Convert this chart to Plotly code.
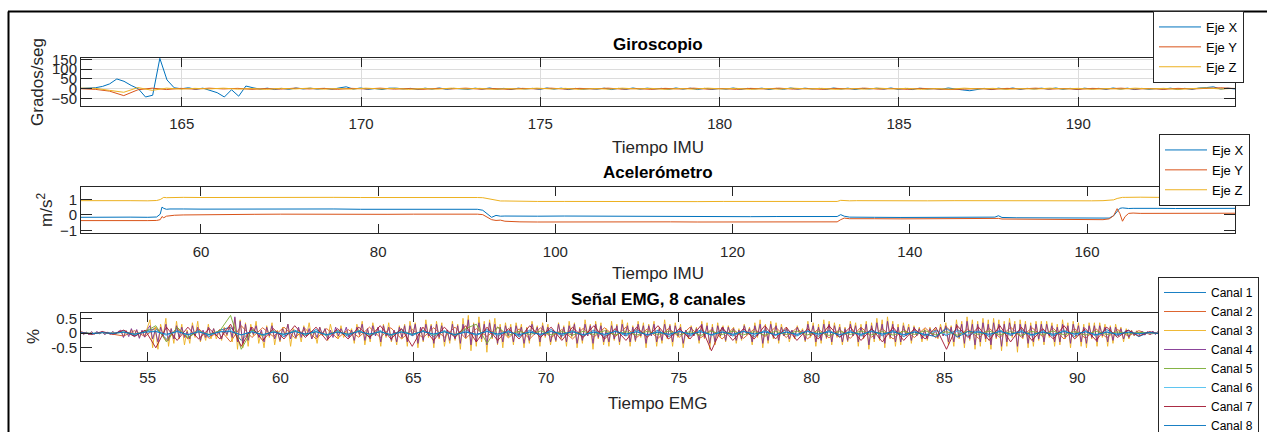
import numpy as np
import plotly.graph_objects as go

FONT = "Liberation Sans, Arial, sans-serif"
W, H = 1267, 432

# ---------------- Giroscopio (Grados/seg) ----------------
gyro_t_range = [162.19, 194.37]
gyro_x = [2, 2, 5, 12, 25, 50, 38, 17, 0, -42,
          -33, 155, 45, 5, 0, 5, -3, 3, -10, -20,
          -42, -5, -38, 14,
          5, -2, 3, -4, 2, -3, 4, -1, 3, -2,
          2, -3, 4, 10, -2, 4, -3, 1, -4, 3,
          3, -1, 2, -4, 3, -2, 4, -3, 2, -1,
          -3, 3, -2, 4, -3, 2, -4, 3, -1, 2,
          -3, 4, -2, 3, -4, 2, -3, 1, -2, 3,
          -4, 2, -3, 4, -2, 3, -1, 2, -3, 4,
          -2, 3, -4, 2, -3, 1, -2, 4, -3, 2,
          -1, 3, -4, 2, -3, 4, -2, 3, -1, 2,
          -3, 4, -2, 3, -4, 2, -1, 3, -2, 4,
          -3, 2, -4, 3, -2, 1, -3, 4, -2, -6,
          -10, -3, 2, -4, 3, -2, 4, -3, 2, -1,
          3, -2, 4, -3, 2, -4, 3, -1, 2, -3,
          4, -2, 3, -4, 2, -3, 1, -2, 3, -4,
          2, -3, 4, 6, 10, -2, 3, -1]
gyro_y = [0, -3, -12, -35, -5, 3, -4, 2,
          -2, 3, -1, 2, -3, 1, -2, 3, -1, 2,
          -3, 2, -1, 3, -2, 1, -3, 2, -1, 3,
          -2, 1, -3, 2, -1, 3, -2, 2, -1, 3,
          -2, 1, -3, 2, -1, 3, -2, 1, -3, 2,
          -1, 3, -2, 1, -3, 2, -1, 3, -2, 1,
          -3, 2, -1, -4, -2, 1, -3, 2, -1, 3,
          -2, 1, -3, 2, -1, 3, -2, 1, -3, 2,
          -1, 3, 5, 1]
gyro_z = [3, 2, -8, -18, 6, -8, 3, -2,
          2, -1, 3, -2, 1, -3, 2, -1, 3, -2,
          1, -2, 3, -1, 2, -3, 1, -2, 3, -1,
          2, -3, 1, -2, 3, -1, 2, -3, 1, -2,
          3, -1, 2, -3, 1, -2, 3, -1, 2, -3,
          1, -2, 3, -1, 2, -3, 1, -2, 3, -1,
          2, -3, 1, -2, 3, -1, 2, -3, 1, -2,
          3, -1, 2, -3, 1, -2, 3, -1, 2, -3,
          1, 4, -1, 2]

# ---------------- Acelerómetro (m/s^2) ----------------
acc_t = [46.46, 48, 50, 52, 54, 55.0, 55.4, 55.6,
         55.8, 56.1, 56.5, 57, 58, 60, 63, 66,
         69, 72, 75, 78, 81, 84, 87, 90,
         91.2, 91.8, 92.3, 92.8, 93.3, 93.8, 94.3, 95,
         96, 98, 101, 104, 107, 110, 113, 116,
         119, 122, 125, 128, 131, 131.8, 132.2, 132.6,
         133.2, 134, 136, 139, 142, 145, 148, 149.6,
         150, 150.4, 152, 155, 158, 160.5, 161.8, 162.5,
         163.0, 163.4, 163.7, 164.0, 164.3, 164.7, 165.2, 166,
         168, 170, 172, 174, 176.7]
acc_x = [-.15, -.16, -.15, -.14, -.15, -.13, .05, .50,
         .42, .36, .38, .37, .38, .37, .38, .37,
         .38, .37, .38, .36, .37, .38, .37, .36,
         .36, .30, .05, -.15, -.03, -.08, -.07, -.08,
         -.07, -.08, -.07, -.08, -.09, -.08, -.09, -.10,
         -.10, -.11, -.10, -.11, -.12, -.10, .02, -.08,
         -.14, -.15, -.15, -.16, -.15, -.16, -.17, -.14,
         -.05, -.16, -.18, -.19, -.20, -.21, -.22, -.20,
         -.05, .20, .42, .45, .43, .41, .42, .41,
         .42, .41, .42, .41, .42]
acc_y = [-.36, -.37, -.36, -.35, -.36, -.35, -.30, -.10,
         -.18, -.08, -.05, -.02, .00, .02, .03, .04,
         .05, .04, .06, .05, .04, .05, .06, .05,
         .05, .02, -.15, -.30, -.35, -.33, -.40, -.43,
         -.44, -.45, -.44, -.45, -.44, -.45, -.44, -.45,
         -.45, -.44, -.45, -.44, -.45, -.44, -.30, -.20,
         -.24, -.25, -.24, -.25, -.24, -.25, -.26, -.25,
         -.22, -.26, -.27, -.28, -.28, -.29, -.30, -.25,
         -.05, .40, .10, -.40, -.10, .10, .12, .10,
         .11, .10, .11, .10, .11]
acc_z = [.91, .92, .90, .91, .90, .92, .98, 1.08,
         1.12, 1.10, 1.11, 1.10, 1.12, 1.11, 1.12, 1.11,
         1.12, 1.11, 1.12, 1.11, 1.12, 1.11, 1.12, 1.12,
         1.11, 1.10, 1.04, .97, .92, .89, .89, .88,
         .87, .86, .86, .85, .86, .85, .86, .85,
         .86, .85, .85, .86, .85, .86, .93, .91,
         .90, .91, .90, .91, .90, .91, .90, .91,
         .92, .90, .91, .90, .91, .90, .91, .92,
         .96, 1.05, 1.10, 1.12, 1.12, 1.13, 1.12, 1.13,
         1.12, 1.13, 1.12, 1.13, 1.12]

# ---------------- Señal EMG (%) ----------------
emg_t_range = [52.49, 95.94]
canal3 = [.02, -.03, .03, -.02, .03, -.03, .02, -.02, .03, -.03, .02, -.03, .03, -.02, .03,
          .06, -.1, .08, -.05, .12, -.08, .1, -.15, .06, -.1, .15,
          .45, -.5, .2, -.55, .3, -.1, .5, -.45, .15, -.35, .4, -.2,
          .3, -.4, .1, -.35, .35, -.15, .4, -.3, .05, -.25, .3, -.2,
          .15, -.2, .05, -.25, .2, -.1, .25, -.3,
          .5, -.55, .45, -.5, .35,
          -.45, .3, -.1, .4, -.35, .05, -.5, .25, -.15, .35, -.4, .1, -.3, .2, -.05, .3, -.45, .15, -.2, .1,
          -.3, .25, -.1, .35, -.2, .05, -.35, .2, -.1, .15, -.25, .3, -.05, .1, -.2, .25, -.15, .05, -.1, .15,
          -.35, .3, -.1, .4, -.4, .15, -.3, .35, -.05, .2, -.45, .3, -.15, .35, -.3, .1, -.4, .25, -.2, .3,
          -.45, .4, -.1, .35, -.5, .2, -.3, .45, -.15, .3, -.5, .4, -.2, .35, -.45, .1, -.35, .4, -.25, .3,
          -.55, .5, -.2, .6, -.6, .35, -.45, .55, -.3, .4, -.65, .45, -.2, .5, -.4, .3, -.5, .35, -.15, .3,
          -.4, .35, -.1, .3, -.5, .2, -.35, .4, -.05, .25, -.45, .35, -.15, .3, -.4, .1, -.3, .35, -.2, .25,
          -.45, .4, -.15, .35, -.5, .2, -.35, .45, -.1, .3, -.55, .4, -.2, .35, -.4, .15, -.45, .4, -.25, .3,
          -.4, .45, -.1, .35, -.45, .25, -.3, .4, -.15, .35, -.5, .3, -.1, .4, -.45, .2, -.35, .45, -.2, .3,
          -.45, .35, -.15, .3, -.5, .1, -.2, .25, -.1, .2, -.35, .4, -.2, .35, -.55, .3, -.4, .35, -.15, .25,
          -.3, .25, -.1, .2, -.35, .15, -.25, .3, -.05, .2, -.4, .35, -.15, .45, -.5, .3, -.35, .4, -.2, .35,
          -.35, .3, -.1, .2, -.3, .1, -.2, .25, -.05, .15, -.3, .4, -.15, .35, -.45, .3, -.35, .45, -.2, .4,
          -.4, .35, -.15, .3, -.4, .2, -.3, .4, -.1, .35, -.45, .3, -.2, .4, -.55, .35, -.3, .5, -.25, .45,
          -.5, .55, -.2, .4, -.45, .3, -.4, .35, -.1, .3, -.35, .25, -.1, .2, -.3, .15, -.25, .2, -.1, .15,
          -.2, .3, -.1, .35, -.4, .25, -.45, .45, -.2, .4, -.5, .55, -.25, .45, -.55, .4, -.45, .5, -.3, .45,
          -.55, .5, -.2, .45, -.6, .4, -.45, .5, -.15, .4, -.65, .45, -.2, .4, -.5, .35, -.45, .4, -.25, .4,
          -.4, .4, -.15, .35, -.45, .3, -.4, .45, -.2, .35, -.5, .4, -.15, .35, -.45, .3, -.5, .35, -.2, .35,
          -.45, .35, -.15, .3, -.45, .25, -.35, .3, -.1, .2, -.3, .15, -.2, .1, -.1, .08, -.05,
          .04, -.05, .03, -.04, .05, -.03, .04, -.05, .03, -.04, .05, -.03, .04, -.05, .03, -.04, .05, -.03,
          .04, -.05, .03, -.04, .05, -.03, .04, -.05, .03, -.04, .05, -.03, .04, -.05, .03, -.04, .05, -.03]
canal4 = [.04, -.05, .03, -.06, .05, -.04, .06, -.03, .05, -.06, .04, -.05, .06, -.04, .05,
          .1, -.15, .08, -.12, .15, -.1, .12, -.18, .1, -.14, .12,
          .25, -.2, .1, -.3, .2, -.1, .3, -.25, .15, -.2, .25, -.15,
          .2, -.15, .05, -.2, .25, -.1, .2, -.25, .1, -.15, .2, -.1,
          .15, -.1, .05, -.2, .15, -.05, .2, -.15,
          .55, -.3, .4, -.35, .3,
          -.25, .2, -.05, .25, -.15, .1, -.3, .2, -.1, .25, -.2, .05, -.25, .15, -.1, .3, -.2, .1, -.15, .2,
          -.15, .2, -.1, .15, -.2, .05, -.15, .2, -.05, .15, -.2, .1, -.15, .2, -.1, .15, -.05, .2, -.15, .1,
          -.25, .2, -.05, .3, -.25, .15, -.2, .25, -.1, .2, -.3, .25, -.1, .2, -.25, .1, -.3, .2, -.15, .25,
          -.3, .25, -.1, .3, -.35, .2, -.25, .3, -.1, .25, -.35, .3, -.15, .25, -.3, .1, -.25, .3, -.2, .25,
          -.35, .3, -.15, .45, -.4, .3, -.3, .35, -.2, .3, -.4, .35, -.15, .3, -.35, .2, -.3, .25, -.1, .2,
          -.3, .25, -.1, .2, -.35, .15, -.25, .3, -.05, .2, -.3, .25, -.1, .2, -.3, .1, -.25, .3, -.15, .2,
          -.3, .25, -.1, .3, -.35, .15, -.25, .3, -.1, .25, -.35, .3, -.15, .25, -.3, .1, -.3, .25, -.2, .25,
          -.3, .3, -.1, .25, -.3, .2, -.25, .3, -.1, .25, -.35, .25, -.1, .3, -.3, .15, -.25, .3, -.15, .25,
          -.3, .25, -.1, .2, -.35, .1, -.15, .2, -.1, .15, -.25, .3, -.15, .25, -.35, .2, -.3, .25, -.1, .2,
          -.25, .2, -.1, .15, -.25, .1, -.2, .25, -.05, .15, -.3, .25, -.1, .3, -.35, .2, -.25, .3, -.15, .25,
          -.25, .2, -.1, .15, -.2, .1, -.15, .2, -.05, .1, -.25, .3, -.1, .25, -.3, .2, -.25, .3, -.15, .3,
          -.3, .25, -.1, .2, -.3, .15, -.25, .3, -.1, .25, -.3, .2, -.15, .3, -.4, .25, -.2, .35, -.2, .3,
          -.35, .4, -.15, .3, -.3, .2, -.3, .25, -.1, .2, -.25, .2, -.1, .15, -.2, .1, -.2, .15, -.1, .1,
          -.15, .2, -.1, .25, -.3, .2, -.3, .3, -.15, .3, -.35, .4, -.2, .3, -.4, .3, -.3, .35, -.2, .3,
          -.4, .35, -.15, .3, -.45, .3, -.3, .35, -.1, .3, -.45, .3, -.15, .3, -.35, .25, -.3, .3, -.2, .3,
          -.3, .3, -.1, .25, -.3, .2, -.3, .3, -.15, .25, -.35, .3, -.1, .25, -.3, .2, -.35, .25, -.15, .25,
          -.3, .25, -.1, .2, -.3, .2, -.25, .2, -.1, .15, -.2, .1, -.15, .08, -.08, .06, -.05,
          .06, -.07, .05, -.06, .07, -.05, .06, -.07, .05, -.06, .07, -.05, .06, -.07, .05, -.06, .07, -.05,
          .06, -.07, .05, -.06, .07, -.05, .06, -.07, .05, -.06, .07, -.05, .06, -.07, .05, -.06, .07, -.05]
canal7 = [.04, -.05, .05, -.04,
          .1, -.12, .1,
          -.5, .2, -.25, .2,
          -.2, .15, -.2,
          .3, -.45,
          .2, -.25, .15, -.2, .25, -.15, .2, -.25, .15, -.2,
          .2, -.15, .25, -.2, .15, -.45, .2, -.25, .2, -.15,
          .25, -.3, .2, -.25, .15, -.2, .25, -.15, .2, -.25,
          .2, -.15, .25, -.2, .15, -.25, .2, -.15, .25, -.2,
          .15, -.2, .25, -.6, .2, -.25, .15, -.2, .25, -.2,
          .2, -.25, .15, -.2, .25, -.15, .2, -.25, .15, -.3,
          .2, -.25, .15, -.2, .2, -.55, .25, -.15, .2, -.25,
          .25, -.3, .2, -.25, .15, -.2, .25, -.2, .15, -.25,
          .2, -.15, .1, -.1,
          .05, -.04, .05, -.06, .04, -.05, .04, -.05, .04]
canal1 = [.02, -.03, .03, -.02,
          .08, -.1, .07,
          .15, -.2, .12, -.15,
          .1, -.12, .1,
          .2, -.25,
          .12, -.1, .08, -.12, .1, -.08, .12, -.1, .09, -.11,
          .1, -.12, .08, -.1, .12, -.09, .1, -.12, .08, -.1,
          .11, -.09, .12, -.1, .08, -.12, .1, -.08, .12, -.1,
          .09, -.11, .1, -.12, .08, -.1, .12, -.09, .1, -.12,
          .08, -.1, .11, -.09, .12, -.1, .08, -.12, .1, -.08,
          .12, -.1, .09, -.11, .1, -.12, .08, -.1, .12, -.09,
          .1, -.12, .08, -.1, .11, -.09, .12, -.1, .08, -.12,
          .1, -.08, .12, -.1, .09, -.11, .1, -.12, .08, -.1,
          .12, -.09, .1, -.12,
          .03, -.03, .04, -.02, .03, -.04, .02, -.03, .03]
canal2 = [.03, -.02, .02, -.03,
          -.1, .08, -.12,
          .2, -.25, .18, -.2,
          .15, -.18, .12,
          -.3, .25,
          -.15, .18, -.12, .2, -.16, .14, -.2, .15, -.18, .12,
          -.14, .2, -.15, .18, -.2, .12, -.16, .18, -.14, .2,
          -.18, .15, -.12, .2, -.16, .14, -.2, .18, -.15, .12,
          -.2, .16, -.14, .18, -.12, .2, -.15, .14, -.18, .16,
          -.14, .2, -.16, .12, -.2, .15, -.18, .14, -.12, .2,
          -.15, .18, -.2, .14, -.16, .12, -.18, .2, -.14, .15,
          -.2, .12, -.15, .18, -.16, .2, -.12, .14, -.18, .16,
          -.15, .2, -.14, .18, -.12, .16, -.2, .15, -.18, .14,
          -.16, .12, -.1, .08,
          -.04, .03, -.05, .04, -.03, .05, -.04, .03, -.04]
canal5 = [.01, -.02, .02, -.01,
          .03, -.04, .05,
          .25, -.3, .2, -.15,
          .06, -.05, .08,
          .6, -.55,
          .1, -.08, .06, -.05, .07, -.06, .05, -.07, .06, -.05,
          .07, -.06, .05, -.08, .06, -.05, .07, -.06, .05, -.07,
          .15, .3, -.35, .2, -.08, .06, -.05, .07, -.06, .05,
          -.07, .06, -.05, .08, -.06, .05, -.07, .06, -.05, .07,
          -.06, .05, -.08, .06, -.05, .07, -.06, .05, -.07, .06,
          -.05, .07, -.06, .05, -.08, .06, -.05, .07, -.06, .05,
          -.07, .06, -.05, .08, -.06, .05, -.07, .06, -.05, .07,
          -.06, .05, -.08, .06, -.05, .07, -.06, .05, -.07, .06,
          -.05, .04, -.03, .02,
          .01, -.02, .01, -.01, .02, -.01, .01, -.02, .01]
canal6 = [.01, -.01, .02, -.01,
          .04, -.05, .04,
          .07, -.08, .06, -.07,
          .06, -.07, .05,
          .08, -.07,
          .06, -.07, .05, -.06, .07, -.05, .06, -.07, .05, -.06,
          .07, -.05, .06, -.07, .05, -.06, .07, -.05, .06, -.07,
          .05, -.06, .07, -.05, .06, -.07, .05, -.06, .07, -.05,
          .06, -.07, .05, -.06, .07, -.05, .06, -.07, .05, -.06,
          .07, -.05, .06, -.07, .05, -.06, .07, -.05, .06, -.07,
          .05, -.06, .07, -.05, .06, -.07, .05, -.06, .07, -.05,
          .06, -.07, .05, -.06, .07, -.05, .06, -.07, .05, -.06,
          .07, -.05, .06, -.07, .05, -.06, .07, -.05, .06, -.07,
          .05, -.04, .03, -.02,
          .01, -.01, .02, -.01, .01, -.02, .01, -.01, .01]
canal8 = [.01, -.02, .01, -.01,
          .03, -.04, .03,
          .05, -.04, .05, -.05,
          .04, -.05, .04,
          .05, -.06,
          .04, -.05, .03, -.04, .05, -.03, .04, -.05, .03, -.04,
          .05, -.03, .04, -.05, .03, -.04, .05, -.03, .04, -.05,
          .03, -.04, .05, -.03, .04, -.05, .03, -.04, .05, -.03,
          .04, -.05, .03, -.04, .05, -.03, .04, -.05, .03, -.04,
          .05, -.03, .04, -.05, .03, -.04, .05, -.03, .04, -.05,
          .03, -.04, .05, -.03, .04, -.05, .03, -.04, .05, -.03,
          .04, -.05, .03, -.04, -.12, .16, -.14, .05, .03, -.04,
          .05, -.03, .04, -.05, .03, -.04, .05, -.03, .04, -.05,
          .03, -.04, .03, -.03,
          .02, -.02, .03, -.02, .02, -.03, .02, -.02, .02]

emg_channels = [canal1, canal2, canal3, canal4, canal5, canal6, canal7, canal8]
emg_names = ["Canal %d" % (i + 1) for i in range(8)]
imu_names = ["Eje X", "Eje Y", "Eje Z"]

COLORS = ["#0072BD", "#D95319", "#EDB120", "#7E2F8E", "#77AC30", "#4DBEEE", "#A2142F", "#0072BD"]
AX = "#262626"


def px_x(x):
    return x / W


def px_y(y):
    return 1 - y / H


fig = go.Figure()

for i, vals in enumerate([gyro_x, gyro_y, gyro_z]):
    t = np.linspace(gyro_t_range[0], gyro_t_range[1], len(vals))
    fig.add_trace(go.Scatter(x=t, y=vals, mode="lines", name=imu_names[i],
                             line=dict(color=COLORS[i], width=1),
                             xaxis="x", yaxis="y", legend="legend"))

for i, vals in enumerate([acc_x, acc_y, acc_z]):
    fig.add_trace(go.Scatter(x=acc_t, y=vals, mode="lines", name=imu_names[i],
                             line=dict(color=COLORS[i], width=1),
                             xaxis="x2", yaxis="y2", legend="legend2"))

for i, vals in enumerate(emg_channels):
    t = np.linspace(emg_t_range[0], emg_t_range[1], len(vals))
    fig.add_trace(go.Scatter(x=t, y=vals, mode="lines", name=emg_names[i],
                             line=dict(color=COLORS[i], width=0.9),
                             xaxis="x3", yaxis="y3", legend="legend3"))

XDOM = [px_x(81), px_x(1235)]
tickfont = dict(family=FONT, size=15, color=AX)


def axis(**kw):
    d = dict(showline=True, mirror="ticks", linecolor=AX, linewidth=1,
             ticks="inside", tickcolor=AX, tickwidth=1, tickfont=tickfont,
             zeroline=False, showgrid=False)
    d.update(kw)
    return d


grid = dict(showgrid=True, gridcolor="#DCDCDC", gridwidth=1)


def legend_style(x, y, size):
    return dict(x=px_x(x), y=px_y(y), xanchor="left", yanchor="top",
                bgcolor="white", bordercolor=AX, borderwidth=1, itemwidth=42,
                font=dict(family=FONT, size=size, color="black"), tracegroupgap=0)


fig.update_layout(
    width=W, height=H, autosize=False,
    margin=dict(l=0, r=0, t=0, b=0, autoexpand=False),
    paper_bgcolor="white", plot_bgcolor="white",
    font=dict(family=FONT, color=AX),
    xaxis=axis(domain=XDOM, anchor="y", range=gyro_t_range, tickvals=[165, 170, 175, 180, 185, 190],
               ticklen=9, ticklabelstandoff=4, **grid),
    yaxis=axis(domain=[px_y(106), px_y(58)], anchor="x", range=[-88, 157],
               tickvals=[-50, 0, 50, 100, 150], ticklen=11, **grid),
    xaxis2=axis(domain=XDOM, anchor="y2", range=[46.46, 176.7], tickvals=[60, 80, 100, 120, 140, 160],
                ticklen=9, ticklabelstandoff=5),
    yaxis2=axis(domain=[px_y(233), px_y(187)], anchor="x2", range=[-1.15, 1.78],
                tickvals=[-1, 0, 1], ticklen=11),
    xaxis3=axis(domain=XDOM, anchor="y3", range=emg_t_range, tickvals=[55, 60, 65, 70, 75, 80, 85, 90],
                ticklen=9, ticklabelstandoff=3),
    yaxis3=axis(domain=[px_y(360.5), px_y(313)], anchor="x3", range=[-0.93, 0.68],
                tickvals=[-0.5, 0, 0.5], ticktext=["-0.5", "0", "0.5"], ticklen=11),
    legend=legend_style(1153, 11, 13),
    legend2=legend_style(1159, 134, 13),
    legend3=legend_style(1158, 277, 12),
    showlegend=True,
)

ann = []


def text(x, y, s, size=17, bold=False, angle=0):
    ann.append(dict(x=px_x(x), y=px_y(y), xref="paper", yref="paper", text=("<b>%s</b>" % s) if bold else s,
                    showarrow=False, xanchor="center", yanchor="middle", textangle=angle,
                    font=dict(family=FONT, size=size, color="black" if bold else AX)))


text(658, 45, "Giroscopio", bold=True)
text(658, 147, "Tiempo IMU")
text(37, 82, "Grados/seg", angle=-90)
text(658, 172, "Acelerómetro", bold=True)
text(658, 273, "Tiempo IMU")
text(45, 210, "m/s<sup>2</sup>", angle=-90)
text(658, 299, "Señal EMG, 8 canales", bold=True)
text(658, 403, "Tiempo EMG")
text(33, 337, "%", angle=-90)
fig.update_layout(annotations=ann)

fig.update_layout(shapes=[
    dict(type="line", xref="paper", yref="paper", x0=px_x(8), x1=1, y0=px_y(11.5), y1=px_y(11.5),
         line=dict(color="black", width=2)),
    dict(type="line", xref="paper", yref="paper", x0=px_x(8.5), x1=px_x(8.5), y0=0, y1=px_y(11.5),
         line=dict(color="black", width=2)),
])

fig.write_html("out.html", config={"displayModeBar": False},
               post_script="document.body.style.margin='0px';")
